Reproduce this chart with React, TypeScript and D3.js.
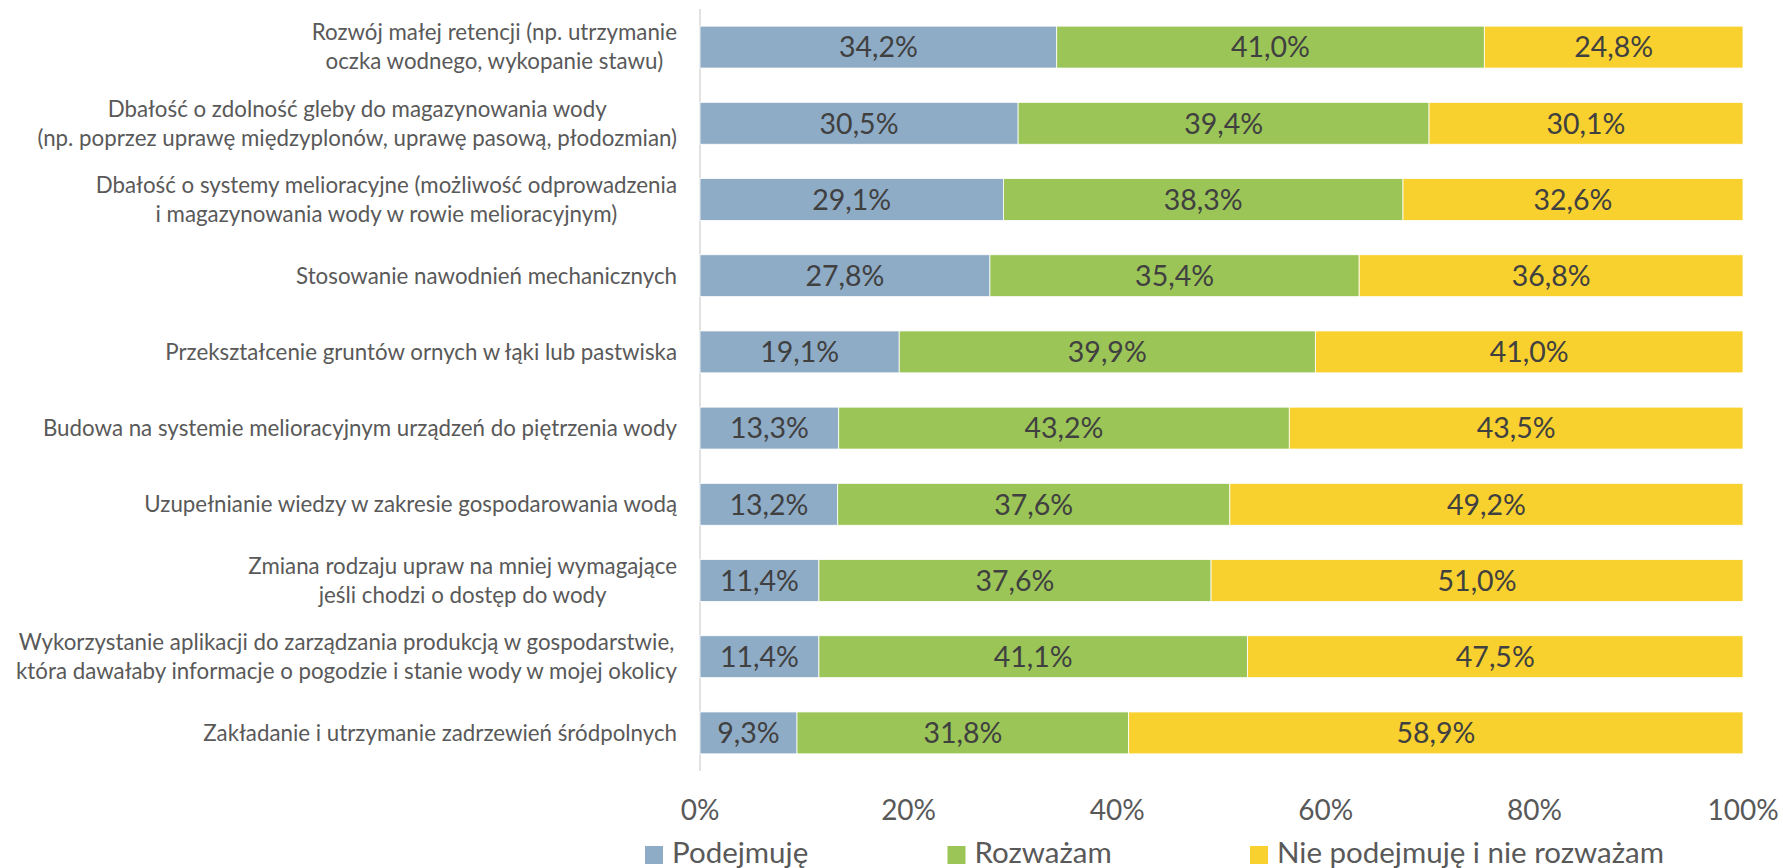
import React, { useEffect, useRef } from 'react';
import * as d3 from 'd3';

const categoryLines: string[][] = [
  ['Rozwój małej retencji (np. utrzymanie', 'oczka wodnego, wykopanie stawu)'],
  ['Dbałość o zdolność gleby do magazynowania wody', '(np. poprzez uprawę międzyplonów, uprawę pasową, płodozmian)'],
  ['Dbałość o systemy melioracyjne (możliwość odprowadzenia', 'i magazynowania wody w rowie melioracyjnym)'],
  ['Stosowanie nawodnień mechanicznych'],
  ['Przekształcenie gruntów ornych w łąki lub pastwiska'],
  ['Budowa na systemie melioracyjnym urządzeń do piętrzenia wody'],
  ['Uzupełnianie wiedzy w zakresie gospodarowania wodą'],
  ['Zmiana rodzaju upraw na mniej wymagające', 'jeśli chodzi o dostęp do wody'],
  ['Wykorzystanie aplikacji do zarządzania produkcją w gospodarstwie,', 'która dawałaby informacje o pogodzie i stanie wody w mojej okolicy'],
  ['Zakładanie i utrzymanie zadrzewień śródpolnych'],
];

const podejmuje = [34.2, 30.5, 29.1, 27.8, 19.1, 13.3, 13.2, 11.4, 11.4, 9.3];
const rozwazam = [41.0, 39.4, 38.3, 35.4, 39.9, 43.2, 37.6, 37.6, 41.1, 31.8];
const nieRozwazam = [24.8, 30.1, 32.6, 36.8, 41.0, 43.5, 49.2, 51.0, 47.5, 58.9];

const seriesNames = ['Podejmuję', 'Rozważam', 'Nie podejmuję i nie rozważam'];
const seriesColors = ['#8FACC6', '#9BC557', '#F9D12E'];
const tickValues = [0, 20, 40, 60, 80, 100];

const FONT = 'Lato, "Open Sans", sans-serif';

export default function App() {
  const ref = useRef<SVGSVGElement | null>(null);

  useEffect(() => {
    const svg = d3.select(ref.current);
    svg.selectAll('*').remove();

    const W = 1783;
    const H = 868;
    const x = d3.scaleLinear().domain([0, 100]).range([700, 1743]);
    const idx = d3.range(categoryLines.length);
    const y = d3
      .scaleBand<number>()
      .domain(idx)
      .range([9, 771])
      .paddingInner(0.45)
      .paddingOuter(0.225);

    const locale = d3.formatLocale({ decimal: ',', thousands: ' ', grouping: [3], currency: ['', ' zł'] });
    const fmt = locale.format('.1f');

    const rows = idx.map((i) => ({ i, vals: [podejmuje[i], rozwazam[i], nieRozwazam[i]] }));
    const stack = d3.stack<any>().keys(['0', '1', '2']).value((d: any, k: string) => d.vals[+k]);
    const stacked = stack(rows as any);

    // axis line
    svg
      .append('line')
      .attr('x1', x(0))
      .attr('x2', x(0))
      .attr('y1', 9)
      .attr('y2', 771)
      .attr('stroke', '#D9D9D9')
      .attr('stroke-width', 1.5);

    const layers = svg
      .selectAll('g.layer')
      .data(stacked)
      .enter()
      .append('g')
      .attr('class', 'layer')
      .attr('fill', (_d, k) => seriesColors[k]);

    layers
      .selectAll('rect')
      .data((d) => d as any)
      .enter()
      .append('rect')
      .attr('x', (d: any) => x(d[0]))
      .attr('width', (d: any) => x(d[1]) - x(d[0]))
      .attr('y', (d: any) => y(d.data.i)!)
      .attr('height', y.bandwidth())
      .attr('stroke', '#ffffff')
      .attr('stroke-width', 0.8);

    layers
      .selectAll('text')
      .data((d) => d as any)
      .enter()
      .append('text')
      .attr('x', (d: any) => (x(d[0]) + x(d[1])) / 2)
      .attr('y', (d: any) => y(d.data.i)! + y.bandwidth() / 2)
      .attr('dy', '0.36em')
      .attr('text-anchor', 'middle')
      .attr('font-family', FONT)
      .attr('font-size', 28.5)
      .attr('fill', '#404040')
      .text((d: any) => fmt(d[1] - d[0]) + '%');

    // category labels
    const right = 677;
    const lineH = 29;
    idx.forEach((i) => {
      const lines = categoryLines[i];
      const cy = y(i)! + y.bandwidth() / 2;
      const g = svg.append('g');
      const texts = lines.map((ln, j) =>
        g
          .append('text')
          .attr('y', cy + (j - (lines.length - 1) / 2) * lineH)
          .attr('dy', '0.35em')
          .attr('text-anchor', 'middle')
          .attr('font-family', FONT)
          .attr('font-size', 22.3)
          .attr('fill', '#595959')
          .text(ln)
      );
      const widths = texts.map((t) => (t.node() as SVGTextElement).getComputedTextLength());
      const maxW = Math.max(...widths);
      texts.forEach((t) => t.attr('x', right - maxW / 2));
    });

    // ticks
    svg
      .selectAll('text.tick')
      .data(tickValues)
      .enter()
      .append('text')
      .attr('class', 'tick')
      .attr('x', (d) => x(d))
      .attr('y', 820)
      .attr('text-anchor', 'middle')
      .attr('font-family', FONT)
      .attr('font-size', 28)
      .attr('fill', '#595959')
      .text((d) => d + '%');

    // legend
    const legend = svg
      .selectAll('g.legend')
      .data(seriesNames)
      .enter()
      .append('g')
      .attr('class', 'legend')
      .attr('transform', (_d, k) => `translate(${645 + k * 302.5},846)`);
    legend
      .append('rect')
      .attr('width', 18)
      .attr('height', 18)
      .attr('fill', (_d, k) => seriesColors[k]);
    legend
      .append('text')
      .attr('x', 27)
      .attr('y', 17)
      .attr('font-family', FONT)
      .attr('font-size', 29.5)
      .attr('fill', '#595959')
      .text((d) => d);

    svg.attr('width', W).attr('height', H);
  }, []);

  return (
    <svg
      ref={ref}
      width={1783}
      height={868}
      style={{ position: 'absolute', left: 0, top: 0, background: '#fff' }}
    />
  );
}
